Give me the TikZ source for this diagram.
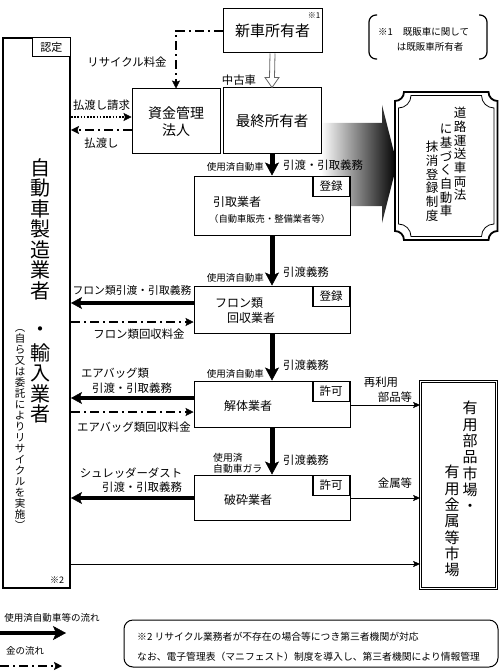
\documentclass[tikz,border=0pt]{standalone}
\usepackage{fontspec}
\setmainfont{Noto Sans CJK JP}
\usepackage{tikz}
\usetikzlibrary{arrows.meta,calc}

\begin{document}
\begin{tikzpicture}[x=1pt,y=-1pt,
  every node/.style={inner sep=0pt,align=center},
  box/.style={draw,line width=1pt,fill=white},
  tab/.style={draw,line width=1.6pt,fill=white,anchor=north east,minimum width=37pt,minimum height=20pt,font=\fontsize{11.5}{13}\selectfont},
  bizname/.style={font=\fontsize{12}{15}\selectfont},
  lbl/.style={font=\fontsize{11.4}{15}\selectfont},
  note/.style={font=\fontsize{9.5}{10.8}\selectfont},
  flow/.style={line width=5pt,-{Stealth[length=13pt,width=14pt,inset=3pt,line width=0.5pt]}},
  backflow/.style={line width=4pt,-{Stealth[length=11pt,width=12pt,inset=2.5pt,line width=0.5pt]}},
  money/.style={line width=1.6pt,dash pattern=on 9pt off 4pt on 2pt off 4pt,-{Stealth[length=8pt,width=8pt,inset=1.5pt,line width=0.5pt]}},
  claim/.style={line width=1.6pt,dash pattern=on 1.6pt off 1.6pt,-{Stealth[length=8pt,width=8pt,inset=1.5pt,line width=0.5pt]}},
  goods/.style={line width=0.9pt,-{Stealth[length=7pt,width=6pt,inset=1.5pt,line width=0.4pt]}},
  hollow/.style={draw=black!60,line width=0.8pt,fill=white}
]
  \useasboundingbox (0,0) rectangle (500,671);
  \shade[left color=white,right color=black] (321,123) -- (382,123) -- (382,105) -- (397,164) -- (382,223) -- (382,206) -- (321,206) -- cycle;
  \draw[line width=1.8pt,fill=white] (404,92) -- (488.5,92) arc[start angle=180,end angle=90,radius=9] -- (497.5,231) arc[start angle=270,end angle=180,radius=9] -- (404,240) arc[start angle=360,end angle=270,radius=9] -- (395,101) arc[start angle=90,end angle=0,radius=9] -- cycle;
  \draw[line width=0.8pt] (411,95.5) -- (481.5,95.5) arc[start angle=180,end angle=90,radius=12.5] -- (494,224) arc[start angle=270,end angle=180,radius=12.5] -- (411,236.5) arc[start angle=360,end angle=270,radius=12.5] -- (398.5,108) arc[start angle=90,end angle=0,radius=12.5] -- cycle;
  \node[font=\fontsize{12.5}{13.7}\selectfont,anchor=north] (dereg1) at (460,107) {道\\路\\運\\送\\車\\両\\法};
  \node[font=\fontsize{12.5}{13.7}\selectfont,anchor=north] (dereg2) at (446,124) {に\\基\\づ\\く\\自\\動\\車};
  \node[font=\fontsize{12.5}{13.7}\selectfont,anchor=north] (dereg3) at (432,141) {抹\\消\\登\\録\\制\\度};

  \draw[line width=1.2pt,rounded corners=7pt] (377,15) -- (369,15) -- (369,59) -- (377,59);
  \draw[line width=1.2pt,rounded corners=7pt] (479,15) -- (487,15) -- (487,59) -- (479,59);
  \node[note,anchor=west] (remark0a) at (378,32) {※1\hspace{10pt}既販車に関して};
  \node[note] (remark0b) at (430,47) {は既販車所有者};

  \node[box,minimum width=99pt,minimum height=44pt,font=\fontsize{15}{17}\selectfont] (newowner) at (272.5,31) {新車所有者};
  \node[font=\fontsize{8}{9}\selectfont] (newownernote) at (314,16) {※1};
  \node[box,minimum width=88pt,minimum height=65pt,font=\fontsize{14}{17}\selectfont] (fund) at (176,121.5) {資金管理\\法人};
  \node[box,minimum width=98pt,minimum height=66pt,font=\fontsize{14.5}{17}\selectfont] (last) at (272,121) {最終所有者};

  \node[box,minimum width=156pt,minimum height=59pt] (pickup) at (272,205.5) {};
  \node[box,minimum width=156pt,minimum height=47pt] (freon) at (272,309.5) {};
  \node[box,minimum width=156pt,minimum height=46pt] (dismantle) at (272,404) {};
  \node[box,minimum width=156pt,minimum height=45pt] (shredder) at (272,497.5) {};
  \node[tab] (pickuptab) at (pickup.north east) {登録};
  \node[tab] (freontab) at (freon.north east) {登録};
  \node[tab] (dismantletab) at (dismantle.north east) {許可};
  \node[tab] (shreddertab) at (shredder.north east) {許可};
  \node[bizname,anchor=west] (pickupname) at (213,202) {引取業者};
  \node[font=\fontsize{9.3}{11}\selectfont,anchor=west] (pickupsub) at (209,219) {（自動車販売・整備業者等）};
  \node[bizname,anchor=west] (freonname1) at (215,303) {フロン類};
  \node[bizname,anchor=west] (freonname2) at (227,318) {回収業者};
  \node[bizname] (dismantlename) at (248,406) {解体業者};
  \node[bizname] (shreddername) at (248,500) {破砕業者};

  \node[box,line width=2pt,minimum width=67pt,minimum height=550pt] (maker) at (36.5,313) {};
  \node[tab,line width=1.2pt,minimum width=38pt,minimum height=19pt,font=\fontsize{11}{13}\selectfont] (makertab) at (maker.north east) {認定};
  \node[font=\fontsize{20}{20.5}\selectfont,anchor=north] (makername) at (40,158) {自\\動\\車\\製\\造\\業\\者\\[18pt]・\\[3pt]輸\\入\\業\\者};
  \node[font=\fontsize{10.5}{11}\selectfont,anchor=north] (makersub) at (20,329) {︵\\自\\ら\\又\\は\\委\\託\\に\\よ\\り\\リ\\サ\\イ\\ク\\ル\\を\\実\\施\\︶};
  \node[font=\fontsize{9}{10}\selectfont] (makernote) at (57,580) {※2};

  \node[draw,double,double distance=1.6pt,line width=0.8pt,minimum width=76pt,minimum height=207pt] (market) at (458.5,485) {};
  \node[font=\fontsize{15}{16.3}\selectfont,anchor=north] (market1) at (470,401) {有\\用\\部\\品\\市\\場\\・};
  \node[font=\fontsize{15}{16.3}\selectfont,anchor=north] (market2) at (452,465) {有\\用\\金\\属\\等\\市\\場};

  \draw[hollow] ($(newowner.south)+(-2.5,0)$) -- ($(last.north)+(-2.5,-10)$) -- ($(last.north)+(-7,-10)$) -- (last.north) -- ($(last.north)+(7,-10)$) -- ($(last.north)+(2.5,-10)$) -- ($(newowner.south)+(2.5,0)$);
  \node[lbl] (usedcar) at (239,80) {中古車};
  \draw[money] (newowner.west) -| (fund.north);
  \node[lbl] (fee) at (127,62) {リサイクル料金};
  \draw[claim] (maker.east |- 0,117) -- (fund.west |- 0,117);
  \node[lbl] (claimlbl) at (101.5,105) {払渡し請求};
  \draw[money] (fund.west |- 0,130) -- (maker.east |- 0,130);
  \node[lbl] (paylbl) at (101.5,143) {払渡し};

  \draw[flow] (last.south) -- (pickup.north);
  \draw[flow] (pickup.south) -- (freon.north);
  \draw[flow] (freon.south) -- (dismantle.north);
  \draw[flow] (dismantle.south) -- (shredder.north);
  \node[note,anchor=east] (car1) at (264,167) {使用済自動車};
  \node[lbl,anchor=west] (duty1) at (283,165) {引渡・引取義務};
  \node[note,anchor=east] (car2) at (264,278) {使用済自動車};
  \node[lbl,anchor=west] (duty2) at (283,272) {引渡義務};
  \node[note,anchor=east] (car3) at (264,374) {使用済自動車};
  \node[lbl,anchor=west] (duty3) at (283,365) {引渡義務};
  \node[note,align=left,anchor=west,font=\fontsize{9.8}{10.8}\selectfont] (car4) at (213,463) {使用済\\自動車ガラ};
  \node[lbl,anchor=west] (duty4) at (283,460) {引渡義務};

  \draw[backflow] (freon.west |- 0,303) -- (maker.east |- 0,303);
  \node[font=\fontsize{10.8}{13}\selectfont] (freonduty) at (132,290) {フロン類引渡・引取義務};
  \draw[money] (maker.east |- 0,322) -- (freon.west |- 0,322);
  \node[lbl] (freonfee) at (139,334) {フロン類回収料金};
  \draw[backflow] (dismantle.west |- 0,398) -- (maker.east |- 0,398);
  \node[lbl] (airbagduty1) at (115,373) {エアバッグ類};
  \node[lbl] (airbagduty2) at (132,388) {引渡・引取義務};
  \draw[money] (maker.east |- 0,412) -- (dismantle.west |- 0,412);
  \node[lbl] (airbagfee) at (134,427) {エアバッグ類回収料金};
  \draw[backflow] (shredder.west |- 0,498) -- (maker.east |- 0,498);
  \node[lbl] (dustduty1) at (131,473) {シュレッダーダスト};
  \node[lbl] (dustduty2) at (142,487) {引渡・引取義務};

  \draw[goods] (dismantle.east |- 0,405) -- (market.west |- 0,405);
  \node[lbl] (parts1) at (381,382) {再利用};
  \node[lbl] (parts2) at (395,397) {部品等};
  \draw[goods] (shredder.east |- 0,498) -- (market.west |- 0,498);
  \node[lbl] (metal) at (395,483) {金属等};
  \draw[goods] (maker.east |- 0,564) -- (market.west |- 0,564);

  \node[note] (legflow) at (52,618) {使用済自動車等の流れ};
  \coordinate (legflowa) at (0,633);
  \coordinate (legflowb) at (66,633);
  \draw[flow,line width=4pt] (legflowa) -- (legflowb);
  \node[note] (legmoney) at (25,651) {金の流れ};
  \coordinate (legmoneya) at (0,666);
  \coordinate (legmoneyb) at (62,666);
  \draw[money] (legmoneya) -- (legmoneyb);

  \node[draw,rounded corners=9pt,line width=1pt,minimum width=374pt,minimum height=47pt] (remark) at (311,643.5) {};
  \node[anchor=west,font=\fontsize{9.8}{12}\selectfont] (remark1) at (137,637) {※2 リサイクル業務者が不存在の場合等につき第三者機関が対応};
  \node[anchor=west,font=\fontsize{9.8}{12}\selectfont] (remark2) at (137,657) {なお、電子管理表（マニフェスト）制度を導入し、第三者機関により情報管理};
\end{tikzpicture}
\end{document}
